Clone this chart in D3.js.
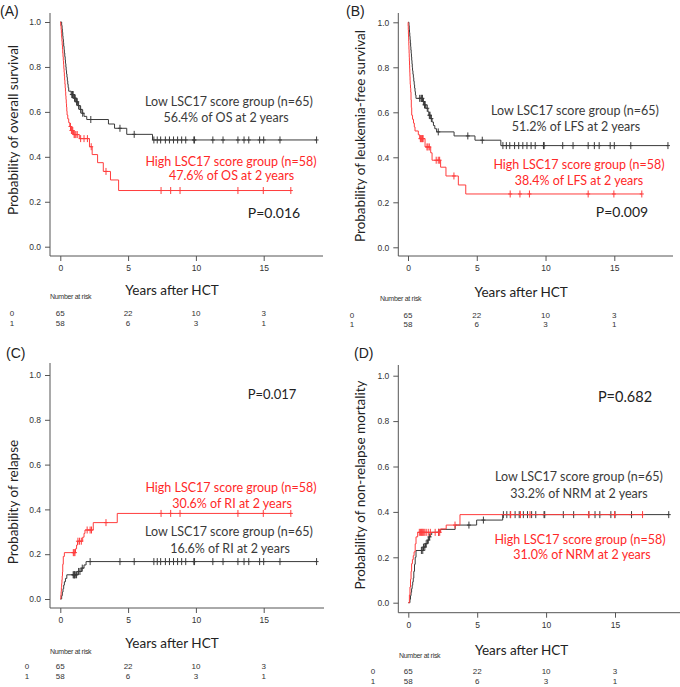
<!DOCTYPE html>
<html><head><meta charset="utf-8">
<script src="https://cdn.jsdelivr.net/npm/d3@7"></script>
<style>body{margin:0;background:#fff}</style>
</head><body><svg id="c" width="680" height="687" xmlns="http://www.w3.org/2000/svg"></svg>
<script>
// ---------- data ----------
const xTicks = [0, 5, 10, 15];
const yTicks = [0, 0.2, 0.4, 0.6, 0.8, 1.0];
const riskTimes = [0, 5, 10, 15];
const riskLow = [65, 22, 10, 3];
const riskHigh = [58, 6, 3, 1];
const riskGroups = ["0", "1"];
const lowTailCens = [6.9,7.15,7.4,7.75,8.05,8.35,8.65,8.95,9.25,9.85,9.9,11.25,12.0,13.1,13.55,13.9,14.7,15.0,16.2,18.9];
const highTailCens = [7.43,8.14,8.83,13.1,14.97,17.0];

// (A) overall survival
const osLowT = [0,0.10,0.13,0.15,0.18,0.20,0.23,0.25,0.28,0.30,0.33,0.36,0.38,0.41,0.43,0.46,0.49,0.52,0.55,0.58,0.62,0.80,1.00,1.15,1.30,1.45,1.60,1.75,1.95,3.55,4.00,4.90,6.80];
const osLowS = [1,0.985,0.969,0.954,0.938,0.923,0.908,0.892,0.877,0.862,0.846,0.831,0.815,0.800,0.785,0.769,0.754,0.738,0.723,0.708,0.692,0.677,0.661,0.645,0.628,0.611,0.594,0.580,0.566,0.546,0.527,0.500,0.475];
const osLowCens = [0.85,0.90,0.95,1.05,1.10,1.20,1.25,1.35,1.50,1.65,2.25,4.40,5.45];
const osHighT = [0,0.03,0.06,0.08,0.10,0.12,0.14,0.16,0.18,0.20,0.22,0.24,0.26,0.28,0.30,0.32,0.34,0.36,0.38,0.40,0.42,0.44,0.46,0.48,0.50,0.55,0.62,0.70,0.78,0.98,1.40,2.15,2.35,2.75,3.17,3.70,4.30];
const osHighS = [1,0.983,0.966,0.948,0.931,0.914,0.897,0.879,0.862,0.845,0.828,0.810,0.793,0.776,0.759,0.741,0.724,0.707,0.690,0.672,0.655,0.638,0.621,0.603,0.586,0.569,0.552,0.535,0.517,0.499,0.481,0.445,0.410,0.374,0.335,0.297,0.250];
const osHighCens = [0.75,0.82,0.88,0.92,1.02,1.08,1.15,1.25,1.5,1.75,2.0,2.28,3.37];

// (B) leukemia-free survival
const lfsLowT = [0,0.07,0.09,0.11,0.13,0.15,0.17,0.19,0.21,0.23,0.25,0.27,0.29,0.31,0.33,0.36,0.39,0.42,0.45,0.48,0.51,0.54,0.58,1.08,1.18,1.30,1.45,1.52,1.62,1.75,1.85,1.95,2.08,3.35,4.87,6.75];
const lfsLowS = [1,0.985,0.969,0.954,0.938,0.923,0.908,0.892,0.877,0.862,0.846,0.831,0.815,0.800,0.785,0.769,0.754,0.738,0.723,0.708,0.692,0.677,0.662,0.648,0.633,0.618,0.602,0.587,0.572,0.557,0.541,0.527,0.513,0.495,0.476,0.452];
const lfsLowCens = [0.85,0.95,1.0,1.05,1.12,1.2,1.25,1.4,1.55,1.6,1.7,2.2,4.35,5.4];
const lfsHighT = [0,0.01,0.02,0.03,0.04,0.05,0.06,0.07,0.08,0.09,0.10,0.11,0.12,0.13,0.14,0.15,0.16,0.18,0.20,0.22,0.24,0.27,0.33,0.40,0.46,0.51,0.75,0.85,1.24,1.65,1.75,2.37,2.76,3.66,4.20];
const lfsHighS = [1,0.983,0.966,0.948,0.931,0.914,0.897,0.879,0.862,0.845,0.828,0.810,0.793,0.776,0.759,0.741,0.724,0.707,0.690,0.655,0.621,0.587,0.569,0.552,0.535,0.517,0.500,0.483,0.446,0.420,0.387,0.356,0.317,0.277,0.237];
const lfsHighCens = [0.9,0.95,1.0,1.05,1.1,1.38,1.45,1.55,2.05,2.2,2.3,3.34];

// (C) relapse incidence
const riLowT = [0,0.10,0.15,0.20,0.25,0.30,0.38,0.48,1.30,1.55,1.75,1.90];
const riLowV = [0,0.015,0.031,0.046,0.062,0.077,0.092,0.108,0.123,0.138,0.152,0.167];
const riLowCens = [0.95,1.0,1.03,1.06,1.1,1.2,1.35,1.45,1.62,2.2,4.4,5.45];
const riHighT = [0,0.04,0.06,0.08,0.10,0.12,0.14,0.16,0.18,0.22,0.30,1.12,1.20,1.27,1.65,1.75,1.82,2.43,4.20];
const riHighV = [0,0.017,0.034,0.052,0.069,0.086,0.103,0.121,0.155,0.190,0.207,0.224,0.241,0.258,0.276,0.293,0.308,0.341,0.382];
const riHighCens = [0.96,1.02,1.08,1.3,1.42,1.55,1.98,2.2,2.3,3.37];

// (D) non-relapse mortality
const nrmLowT = [0,0.12,0.16,0.20,0.24,0.28,0.32,0.36,0.40,0.45,0.50,0.56,1.10,1.25,1.40,1.50,1.60,1.70,2.30,3.40,4.96,6.85];
const nrmLowV = [0,0.015,0.031,0.046,0.062,0.077,0.092,0.108,0.138,0.169,0.200,0.230,0.245,0.260,0.276,0.290,0.300,0.310,0.323,0.342,0.364,0.388];
const nrmLowCens = [0.95,1.05,1.1,1.2,1.3,1.45,1.55,2.2,4.4,5.45];
const nrmHighT = [0,0.08,0.12,0.16,0.20,0.24,0.30,0.36,0.42,0.50,0.56,0.68,2.35,2.75,3.75];
const nrmHighV = [0,0.034,0.069,0.103,0.138,0.172,0.190,0.207,0.224,0.259,0.290,0.310,0.325,0.342,0.388];
const nrmHighCens = [0.8,0.88,0.95,1.0,1.05,1.12,1.2,1.3,1.45,1.6,1.95,2.2,2.28,3.39];

// ---------- drawing ----------
const svg = d3.select('#c');
const BLACK = '#3a3a3a', RED = '#ff3d3d', RED_T = '#ff2828', AX = '#555';
const TXT = 'Lato, "Open Sans", sans-serif';
const NUM = '"Liberation Sans", Arial, sans-serif';

const panels = [
  { label:'(A)', lx:0, ly:11, ax:50, top:13, bot:256, right:323, x0:60.3, x15:263.7, yb:246.7, yt:22,
    ylab:'Probability of overall survival', ylx:13, yly:130, xlabY:290, narX:50, narY:296, row0:313, row1:323, rowLX:12,
    low:[osLowT, osLowS, osLowCens.concat(lowTailCens)], high:[osHighT, osHighS, osHighCens.concat(highTailCens)],
    notes:[['Low LSC17 score group (n=65)',229,101,BLACK],['56.4% of OS at 2 years',226,117.5,BLACK],
           ['High LSC17 score group (n=58)',231,161.5,RED_T],['47.6% of OS at 2 years',231.5,175,RED_T]],
    p:['P=0.016',274,212,14] },
  { label:'(B)', lx:346, ly:11, ax:398.3, top:13, bot:256, right:673, x0:408, x15:614.3, yb:247.3, yt:22.3,
    ylab:'Probability of leukemia-free survival', ylx:360, yly:136, xlabY:291.5, narX:380, narY:298, row0:315, row1:324, rowLX:352,
    low:[lfsLowT, lfsLowS, lfsLowCens.concat(lowTailCens)], high:[lfsHighT, lfsHighS, lfsHighCens.concat(highTailCens)],
    notes:[['Low LSC17 score group (n=65)',575,110,BLACK],['51.2% of LFS at 2 years',576,126,BLACK],
           ['High LSC17 score group (n=58)',579,164,RED_T],['38.4% of LFS at 2 years',579,180,RED_T]],
    p:['P=0.009',622,211,14] },
  { label:'(C)', lx:6, ly:353, ax:50, top:363, bot:608, right:324, x0:60.3, x15:263.7, yb:599, yt:375,
    ylab:'Probability of relapse', ylx:12.5, yly:502, xlabY:643, narX:50, narY:651, row0:666, row1:676, rowLX:27,
    low:[riLowT, riLowV, riLowCens.concat(lowTailCens)], high:[riHighT, riHighV, riHighCens.concat(highTailCens)],
    notes:[['High LSC17 score group (n=58)',231,487.5,RED_T],['30.6% of RI at 2 years',232,503.5,RED_T],
           ['Low LSC17 score group (n=65)',229,531.5,BLACK],['16.6% of RI at 2 years',230,548,BLACK]],
    p:['P=0.017',272,393.5,13] },
  { label:'(D)', lx:354, ly:353, ax:398.3, top:365, bot:612.7, right:680, x0:408.3, x15:615, yb:602.7, yt:375.7,
    ylab:'Probability of non-relapse mortality', ylx:360, yly:485, xlabY:650, narX:399, narY:655, row0:671, row1:681, rowLX:373,
    low:[nrmLowT, nrmLowV, nrmLowCens.concat(lowTailCens)], high:[nrmHighT, nrmHighV, nrmHighCens.concat(highTailCens)],
    notes:[['Low LSC17 score group (n=65)',579,476,BLACK],['33.2% of NRM at 2 years',579,493,BLACK],
           ['High LSC17 score group (n=58)',580,539,RED_T],['31.0% of NRM at 2 years',582,554.5,RED_T]],
    p:['P=0.682',625,396,14.5] }
];

function stepAt(T, V, t) {
  const i = d3.bisectRight(T, t) - 1;
  return V[Math.max(0, i)];
}

panels.forEach(p => {
  const g = svg.append('g');
  const x = d3.scaleLinear().domain([0, 15]).range([p.x0, p.x15]);
  const y = d3.scaleLinear().domain([0, 1]).range([p.yb, p.yt]);

  // L-shaped frame
  g.append('path').attr('d', `M${p.ax},${p.top}V${p.bot}H${p.right}`)
    .attr('fill', 'none').attr('stroke', AX).attr('stroke-width', 1);

  const ya = g.append('g').attr('transform', `translate(${p.ax},0)`)
    .call(d3.axisLeft(y).tickValues(yTicks).tickFormat(d3.format('.1f')).tickSize(5).tickPadding(4));
  const xa = g.append('g').attr('transform', `translate(0,${p.bot})`)
    .call(d3.axisBottom(x).tickValues(xTicks).tickFormat(d3.format('d')).tickSize(5).tickPadding(4));
  [ya, xa].forEach(a => {
    a.select('.domain').remove();
    a.selectAll('line').attr('stroke', AX);
    a.selectAll('text').attr('fill', '#333').style('font-family', NUM).style('font-size', '8.5px');
  });

  // curves
  const line = d3.line().x(d => x(d[0])).y(d => y(d[1])).curve(d3.curveStepAfter);
  [[p.low, BLACK], [p.high, RED]].forEach(([s, col]) => {
    const [T, V, C] = s;
    const end = d3.max(C);
    const pts = T.map((t, i) => [t, V[i]]);
    pts.push([end, V[V.length - 1]]);
    g.append('path').attr('d', line(pts)).attr('fill', 'none').attr('stroke', col).attr('stroke-width', 1);
    g.append('g').selectAll('path').data(C).join('path')
      .attr('d', c => { const cx = x(c), cy = y(stepAt(T, V, c)); return `M${cx},${cy-3.5}V${cy+3.5}M${cx-2},${cy}H${cx+2}`; })
      .attr('stroke', col).attr('stroke-width', 1).attr('fill', 'none');
  });

  // axis titles
  g.append('text').text(p.ylab).attr('transform', `translate(${p.ylx},${p.yly}) rotate(-90)`)
    .attr('text-anchor', 'middle').attr('dominant-baseline', 'central')
    .style('font-family', TXT).style('font-size', '13.5px').attr('fill', '#222');
  g.append('text').text('Years after HCT').attr('x', (p.x0 + p.x15) / 2 + 10).attr('y', p.xlabY)
    .attr('text-anchor', 'middle').attr('dominant-baseline', 'central')
    .style('font-family', TXT).style('font-size', '13.5px').attr('fill', '#222');
  g.append('text').text(p.label).attr('x', p.lx).attr('y', p.ly).attr('dominant-baseline', 'central')
    .style('font-family', NUM).style('font-size', '14px').attr('fill', '#222');

  // annotations
  p.notes.forEach(n => {
    g.append('text').text(n[0]).attr('x', n[1]).attr('y', n[2]).attr('text-anchor', 'middle')
      .attr('dominant-baseline', 'central').style('font-family', TXT).style('font-size', '12.5px').attr('fill', n[3]);
  });
  g.append('text').text(p.p[0]).attr('x', p.p[1]).attr('y', p.p[2]).attr('text-anchor', 'middle')
    .attr('dominant-baseline', 'central').style('font-family', TXT).style('font-size', p.p[3] + 'px').attr('fill', '#222');

  // number at risk
  g.append('text').text('Number at risk').attr('x', p.narX).attr('y', p.narY).attr('dominant-baseline', 'central')
    .style('font-family', NUM).style('font-size', '7px').style('letter-spacing', '-0.3px').attr('fill', '#333');
  [[riskLow, p.row0, riskGroups[0]], [riskHigh, p.row1, riskGroups[1]]].forEach(([vals, ry, lab]) => {
    g.append('text').text(lab).attr('x', p.rowLX).attr('y', ry).attr('text-anchor', 'middle')
      .attr('dominant-baseline', 'central').style('font-family', NUM).style('font-size', '8px').attr('fill', '#333');
    g.append('g').selectAll('text').data(vals).join('text').text(d => d)
      .attr('x', (d, i) => x(riskTimes[i])).attr('y', ry).attr('text-anchor', 'middle')
      .attr('dominant-baseline', 'central').style('font-family', NUM).style('font-size', '8px').attr('fill', '#333');
  });
});
</script>
</body></html>
